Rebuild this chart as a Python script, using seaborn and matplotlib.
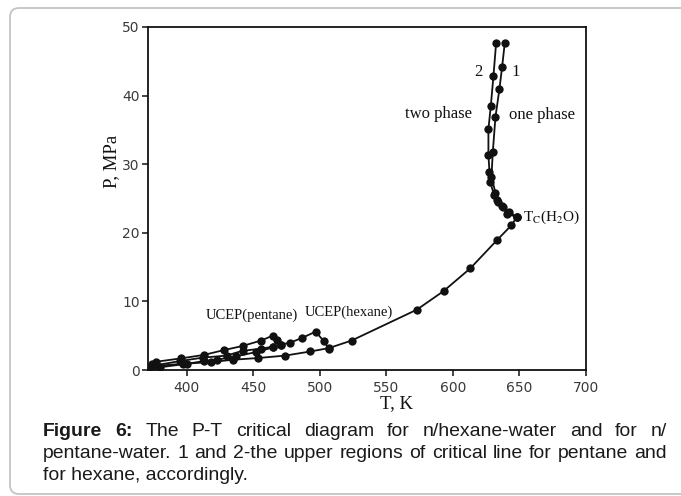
import matplotlib
matplotlib.use("Agg")
import matplotlib.pyplot as plt
import matplotlib.transforms as mtransforms
from matplotlib.patches import FancyBboxPatch
import seaborn as sns

# water critical line, from low T up to Tc(H2O)
main_T = [372, 377, 397, 418, 435, 454, 474, 493, 507, 524, 573, 593, 613, 633, 644, 648]
main_P = [0.3, 0.6, 0.9, 1.15, 1.5, 1.75, 2.1, 2.7, 3.2, 4.3, 8.8, 11.5, 14.8, 18.9, 21.1, 22.3]

# three-phase line ending at UCEP(pentane)
pent_T = [374, 377, 396, 413, 428, 442, 456, 464.6, 468, 471]
pent_P = [0.9, 1.2, 1.7, 2.2, 2.9, 3.5, 4.3, 5.0, 4.4, 3.7]

# three-phase line ending at UCEP(hexane)
hex_T = [374, 395, 412, 430, 442, 456, 464.6, 471, 478, 487, 497, 503, 507]
hex_P = [0.6, 1.3, 1.8, 2.1, 2.8, 3.1, 3.4, 3.7, 4.0, 4.7, 5.6, 4.2, 3.1]

mid_T = [380, 400, 413, 423, 437, 452, 465]
mid_P = [0.4, 0.9, 1.3, 1.5, 2.0, 2.6, 3.3]

# upper critical lines: 1 - pentane, 2 - hexane
c1_T = [648, 642, 638, 634, 632, 629, 630, 632, 635, 637, 639]
c1_P = [22.3, 23.1, 23.8, 24.5, 25.8, 28.2, 31.8, 36.9, 41.0, 44.2, 47.7]
c2_T = [648, 640.5, 636.7, 633, 631, 628, 627.5, 626.7, 626.7, 628.5, 630.5, 632.5]
c2_P = [22.3, 22.8, 23.9, 24.8, 25.5, 27.4, 28.9, 31.3, 35.1, 38.5, 42.9, 47.7]

x_ticks = [400, 450, 500, 550, 600, 650, 700]
y_ticks = [0, 10, 20, 30, 40, 50]

caption_1 = ["Figure", "6:", "The", "P-T", "critical", "diagram", "for", "n/hexane-water", "and", "for", "n/"]
caption_2 = "pentane-water. 1 and 2-the upper regions of critical line for pentane and".split()
caption_3 = "for hexane, accordingly."

sns.set_theme(style="ticks")
plt.rcParams["font.family"] = ["DejaVu Sans"]
plt.rcParams["mathtext.fontset"] = "stix"

W, H = 681, 496
fig = plt.figure(figsize=(W / 100, H / 100), dpi=100)
fig.patch.set_facecolor("white")
ax = fig.add_axes([148 / W, 1 - 370 / H, (586 - 148) / W, (370 - 27) / H])

# outer rounded frame
frame = FancyBboxPatch((10, 2), 700, 486, boxstyle="round,pad=0,rounding_size=9",
                       transform=mtransforms.IdentityTransform(),
                       facecolor="none", edgecolor="#c4c4c4", linewidth=1.3)
fig.add_artist(frame)

line_kw = dict(color="#111111", marker="o", markersize=6, markeredgewidth=0,
               linewidth=1.3, sort=False, estimator=None, ax=ax, legend=False)
for T, P in [(main_T, main_P), (pent_T, pent_P), (hex_T, hex_P), (mid_T, mid_P),
             (c1_T, c1_P), (c2_T, c2_P)]:
    sns.lineplot(x=T, y=P, **line_kw)

ax.set_xlim(371, 700)
ax.set_ylim(0, 50)
ax.set_xticks(x_ticks)
ax.set_yticks(y_ticks)
ax.set_xlabel("")
ax.set_ylabel("")
ax.tick_params(direction="out", length=4, width=1.1, color="#111111",
               labelsize=10, labelcolor="#3a3a3a")
ax.tick_params(axis="y", pad=2)
ax.tick_params(axis="x", pad=4)
for s in ax.spines.values():
    s.set_color("#111111")
    s.set_linewidth(1.3)

serif = ["Liberation Serif", "DejaVu Serif"]
ax.text(449, 8.0, "UCEP(pentane)", family=serif, fontsize=10.5, ha="center", va="center", color="#111")
ax.text(522, 8.4, "UCEP(hexane)", family=serif, fontsize=10.5, ha="center", va="center", color="#111")
ax.text(589, 37.3, "two phase", family=serif, fontsize=12, ha="center", va="center", color="#111")
ax.text(667, 37.2, "one phase", family=serif, fontsize=12, ha="center", va="center", color="#111")
ax.text(619, 43.4, "2", family=serif, fontsize=12, ha="center", va="center", color="#111")
ax.text(647.5, 43.4, "1", family=serif, fontsize=12, ha="center", va="center", color="#111")
ax.text(653, 22.3, r"T$_\mathrm{C}$(H$_2$O)", family=serif, fontsize=11, ha="left", va="center", color="#111")

fig.text(112 / W, 1 - 161 / H, "P, MPa", family=serif, fontsize=13.5, rotation=90,
         ha="center", va="center", color="#111")
fig.text(397 / W, 1 - 404 / H, "T, K", family=serif, fontsize=13.5,
         ha="center", va="center", color="#111")

# caption, justified like the journal layout
renderer = fig.canvas.get_renderer()
x0, x1 = 43, 667
cap_kw = dict(family=["Liberation Sans", "DejaVu Sans"], va="baseline",
              ha="left", color="#1a1a1a")

# size the caption so the second line fills the column almost naturally
probe = fig.text(0, 0, " ".join(caption_2), fontsize=10, **cap_kw)
cap_size = 10 * (x1 - x0) * 0.985 / probe.get_window_extent(renderer).width
probe.remove()
cap_kw["fontsize"] = cap_size


def justified(words, y, n_bold=0):
    texts = [fig.text(0, 0, w, weight="bold" if i < n_bold else "normal", **cap_kw)
             for i, w in enumerate(words)]
    widths = [t.get_window_extent(renderer).width for t in texts]
    gap = (x1 - x0 - sum(widths)) / (len(words) - 1)
    x = x0
    for t, w in zip(texts, widths):
        t.set_position((x / W, 1 - y / H))
        x += w + gap


justified(caption_1, 436, n_bold=2)
justified(caption_2, 458)
fig.text(x0 / W, 1 - 480 / H, caption_3, **cap_kw)

fig.savefig("out.png", dpi=100)
